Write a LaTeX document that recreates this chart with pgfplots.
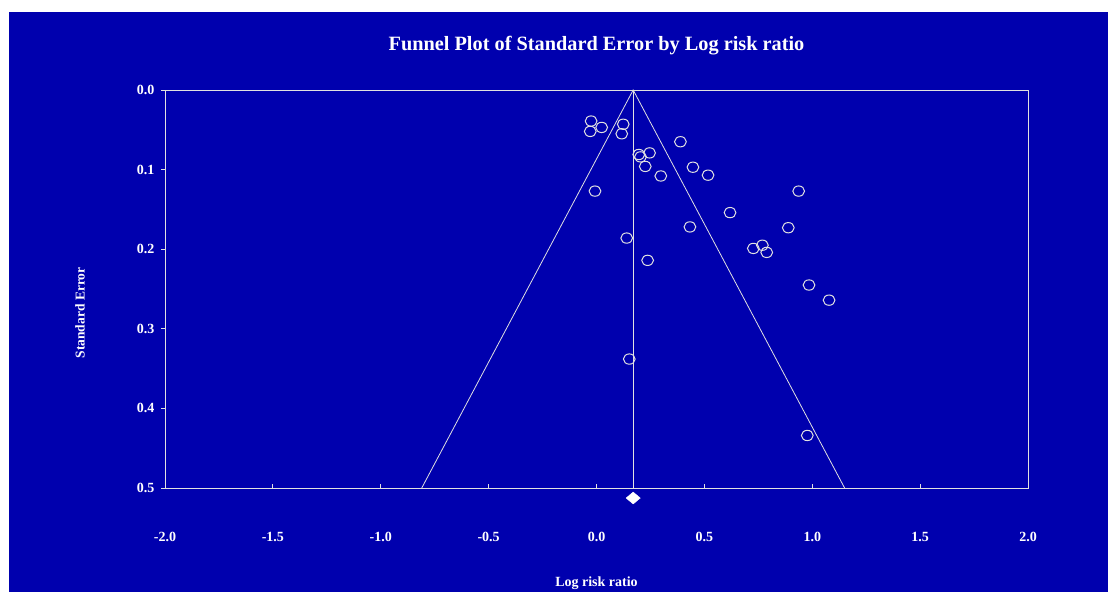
\documentclass[border=0pt]{standalone}
\usepackage{fontspec}
\setmainfont{Liberation Serif}
\usepackage{pgfplots}
\pgfplotsset{compat=1.18}
\definecolor{bg}{RGB}{0,0,174}
\definecolor{ln}{RGB}{225,225,225}
\begin{document}
\begin{tikzpicture}[x=1pt,y=1pt]
\path[use as bounding box] (0,0) rectangle (1108,592);
\fill[white] (0,0) rectangle (1108,592);
\fill[bg] (9,0) rectangle (1108,580);
\begin{axis}[
  at={(165pt,104pt)}, anchor=south west,
  scale only axis, width=863pt, height=398pt,
  xmin=-2, xmax=2, ymin=0, ymax=0.5, y dir=reverse,
  clip=false,
  axis line style={ln, line width=1pt},
  axis background/.style={fill=bg},
  xtick={-2,-1.5,...,2}, ytick={0,0.1,...,0.5},
  xtick pos=bottom, ytick pos=left,
  tick style={ln, line width=0.8pt},
  major tick length=4pt,
  xtick align=inside, ytick align=outside,
  /pgf/number format/assume math mode=true,
  /pgf/number format/.cd, fixed, fixed zerofill, precision=1, /pgfplots/.cd,
  ticklabel style={font=\fontsize{14}{16}\selectfont\bfseries, text=white},
  xticklabel style={anchor=base, yshift=-53pt},
  yticklabel style={xshift=-3pt},
  title={Funnel Plot of Standard Error by Log risk ratio},
  title style={font=\fontsize{20.3}{24}\selectfont\bfseries, text=white, at={(axis description cs:0.5,1.0854)}, anchor=base},
  xlabel={Log risk ratio},
  xlabel style={font=\fontsize{14}{16}\selectfont\bfseries, text=white, at={(axis description cs:0.5,-0.2487)}, anchor=base},
  ylabel={Standard Error},
  ylabel style={font=\fontsize{13.5}{16}\selectfont\bfseries, text=white, at={(axis description cs:-0.0985,0.44)}, anchor=center},
]
\addplot[ln, line width=0.8pt] coordinates {(-0.81,0.5) (0.17,0) (1.15,0.5)};
\addplot[ln, line width=0.8pt] coordinates {(0.17,0) (0.17,0.5)};
\addplot[only marks, mark=o, mark size=5.6pt, mark options={ln, line width=1pt, xscale=1.05, yscale=0.92}] coordinates {
(-0.025,0.039) (-0.029,0.052) (0.024,0.047) (0.124,0.043) (0.117,0.055)
(0.389,0.065) (0.196,0.081) (0.204,0.084) (0.246,0.079) (0.226,0.096)
(0.298,0.108) (0.447,0.097) (0.517,0.107) (-0.007,0.127) (0.937,0.127)
(0.619,0.154) (0.433,0.172) (0.140,0.186) (0.889,0.173) (0.727,0.199)
(0.769,0.195) (0.789,0.204) (0.237,0.214) (0.985,0.245) (1.078,0.264)
(0.152,0.338) (0.977,0.434)
};
\addplot[only marks, mark=diamond*, mark size=7pt, mark options={fill=white, draw=white, xscale=1.35, yscale=0.85}] coordinates {(0.17,0.5126)};
\end{axis}
\end{tikzpicture}
\end{document}
